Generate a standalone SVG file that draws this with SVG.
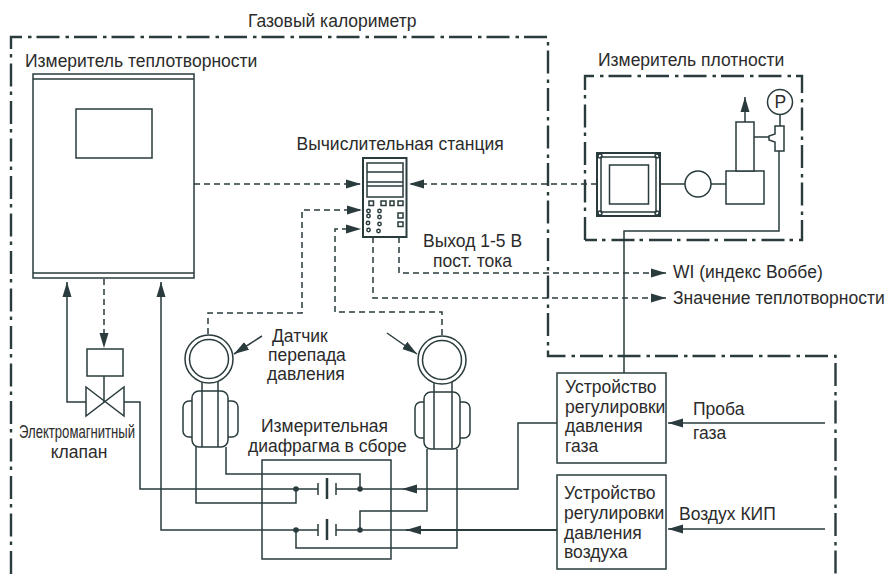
<svg xmlns="http://www.w3.org/2000/svg" width="886" height="574" viewBox="0 0 886 574">
<style>
text{font-family:"Liberation Sans",Arial,sans-serif;font-size:17.5px;fill:#2b2b2b}
.s{fill:none;stroke:#2a3b3e;stroke-width:1.5}
.b{fill:#fff;stroke:#2a3b3e;stroke-width:1.5}
.d{fill:none;stroke:#2a3b3e;stroke-width:1.5;stroke-dasharray:6 4}
.a{marker-end:url(#ah)}
.dd{fill:none;stroke:#2a3b3e;stroke-width:2.4;stroke-dasharray:23 6 3.500 5}
.f{fill:#2a3b3e;stroke:none}
</style>
<defs>
<marker id="ah" markerUnits="userSpaceOnUse" markerWidth="16" markerHeight="10" refX="15" refY="5" orient="auto"><path d="M0,0.5L15,5L0,9.5z" fill="#2a3b3e"/></marker>
</defs>
<rect width="886" height="574" fill="#fff"/>
<g id="boundaries">
<path id="calorimeter-boundary" class="dd" d="M11,574V37H548V356H835.500V574"/>
<path id="density-boundary" class="dd" d="M585,240V76H802V240H585"/>
</g>
<g id="connectors">
<path class="d a" d="M194,184H361"/>
<path class="d a" d="M597,184H409"/>
<path class="d a" d="M208,334V313H302V210H362"/>
<path class="d a" d="M442,335V312H335V229H361"/>
<path class="d a" d="M399,237V273H666"/>
<path class="d a" d="M373,237V298H666"/>
<path class="d a" d="M104,279V348"/>
<path class="s a" d="M86,402H67V282"/>
<path class="s" d="M124,402H140V489H318"/>
<path class="s a" d="M318,530H161V282"/>
<path class="s" d="M196,447V503H296V489"/>
<path class="s" d="M226,447V474H360V489"/>
<path class="s" d="M296,530V548H457V449"/>
<path class="s" d="M427,449V511H360V530"/>
<path class="s a" d="M557,423H518V489H402"/>
<path class="s" d="M402,489H336"/>
<path class="s a" style="stroke-width:2" d="M557,530H406"/>
<path class="s" d="M406,530H336"/>
<path class="s a" d="M825,423H668"/>
<path class="s a" d="M825,529H668"/>
<path class="s" d="M779,151V231H624V373"/>
<path class="s" d="M660,184H726"/>
<path class="s a" d="M745,122V97"/>
<path class="s" d="M754,137H769M780,126V114"/>
<path class="s a" d="M262,336L234,354"/>
<path class="s a" d="M387,333L417,354"/>
<path class="s" d="M104,376V402"/>
</g>
<g id="heat-meter">
<rect class="s" x="33" y="74" width="161" height="204"/>
<path class="s" d="M33,79H194M33,273H194"/>
<rect class="s" x="76" y="109" width="76" height="49"/>
<text x="25" y="67">Измеритель теплотворности</text>
</g>
<g id="title"><text x="248" y="27">Газовый калориметр</text></g>
<g id="computing-station">
<rect class="b" x="363" y="158" width="43.500" height="79" style="stroke-width:2"/>
<rect class="s" x="367" y="163" width="36" height="34"/>
<path class="s" d="M367,172H403M367,182H403M367,186H403"/>
<rect class="s" x="369" y="201" width="4.500" height="4.500"/>
<rect class="s" x="381" y="201" width="5" height="4.500"/>
<rect class="s" x="390" y="201" width="4" height="4.500"/>
<rect class="s" x="398" y="201" width="5" height="4.500"/>
<rect class="s" x="398" y="213" width="5" height="5"/>
<rect class="s" x="398" y="222" width="5" height="4.500"/>
<g class="s">
<circle cx="368.500" cy="211" r="1.700"/><circle cx="368.500" cy="216" r="1.700"/><circle cx="368" cy="223" r="1.700"/><circle cx="368.500" cy="230" r="1.700"/>
<circle cx="379.500" cy="211" r="1.700"/><circle cx="379.500" cy="217" r="1.700"/><circle cx="379.500" cy="224" r="1.700"/><circle cx="378.500" cy="231" r="1.700"/>
</g>
<text x="296.500" y="150">Вычислительная станция</text>
</g>
<g id="density-meter">
<rect class="b" x="597" y="153" width="63" height="63" style="stroke-width:2"/>
<rect class="s" x="601" y="157" width="55" height="55"/>
<rect class="s" x="609.500" y="165" width="39" height="39"/>
<g class="s"><circle cx="600" cy="156" r="2"/><circle cx="657" cy="156" r="2"/><circle cx="600" cy="213" r="2"/><circle cx="657" cy="213" r="2"/></g>
<circle class="b" cx="698" cy="184" r="13"/>
<rect class="b" x="726" y="171" width="38" height="33"/>
<rect class="b" x="736" y="122" width="18" height="49"/>
<circle class="b" cx="780" cy="102" r="12.500"/>
<path class="b" d="M775,126H784V151H775V142L769,140V136L775,134Z"/>
<text x="774.500" y="108">P</text>
<text x="598" y="66">Измеритель плотности</text>
</g>
<g id="valve">
<rect class="s" x="87" y="349" width="36" height="27"/>
<path class="s" d="M86,387L124,416V387L86,416Z"/>
<text x="19" y="438" textLength="116" lengthAdjust="spacingAndGlyphs">Электромагнитный</text>
<text x="79" y="458" text-anchor="middle">клапан</text>
</g>
<g id="dp-sensor-left">
<rect class="b" x="183" y="401" width="18" height="36" rx="6"/>
<rect class="b" x="220" y="401" width="18" height="36" rx="6"/>
<rect class="b" x="192" y="391" width="36" height="56" rx="7"/>
<path class="s" d="M202,380V447M218,380V447"/>
<circle class="b" cx="209" cy="359" r="24"/>
<circle class="s" cx="209" cy="359" r="19.500"/>
</g>
<g id="dp-sensor-right">
<rect class="b" x="415" y="402" width="18" height="36" rx="6"/>
<rect class="b" x="452" y="402" width="18" height="36" rx="6"/>
<rect class="b" x="424" y="392" width="36" height="57" rx="7"/>
<path class="s" d="M434,380V449M452,380V449"/>
<circle class="b" cx="442" cy="360" r="24"/>
<circle class="s" cx="442" cy="360" r="19.500"/>
</g>
<g id="dp-label"><text x="272" y="342">Датчик</text><text x="268" y="361">перепада</text><text x="267" y="380">давления</text></g>
<g id="orifice-assembly">
<rect class="s" x="262" y="460" width="129" height="99"/>
<path class="s" d="M318,483V495M336,483V495M318,524V536M336,524V536"/>
<path class="s" style="stroke-width:2.500" d="M327,478V499M327,519V540"/>
<g class="f"><circle cx="296" cy="489" r="2.800"/><circle cx="360" cy="489" r="2.800"/><circle cx="296" cy="530" r="2.800"/><circle cx="360" cy="530" r="2.800"/></g>
<text x="261" y="432">Измерительная</text><text x="248" y="452">диафрагма в сборе</text>
</g>
<g id="gas-regulator">
<rect class="b" x="557" y="373" width="109" height="90"/>
<text x="565" y="393">Устройство</text><text x="565" y="413">регулировки</text><text x="565" y="432">давления</text><text x="565" y="452">газа</text>
</g>
<g id="air-regulator">
<rect class="b" x="557" y="475" width="109" height="94"/>
<text x="564" y="499">Устройство</text><text x="564" y="519">регулировки</text><text x="564" y="539">давления</text><text x="564" y="558">воздуха</text>
</g>
<g id="labels">
<text x="423" y="247">Выход 1-5 В</text><text x="433" y="267">пост. тока</text>
<text x="673" y="278">WI (индекс Воббе)</text><text x="673" y="304">Значение теплотворности</text>
<text x="693" y="415">Проба</text><text x="693" y="439">газа</text><text x="679" y="520">Воздух КИП</text>
</g>
</svg>
